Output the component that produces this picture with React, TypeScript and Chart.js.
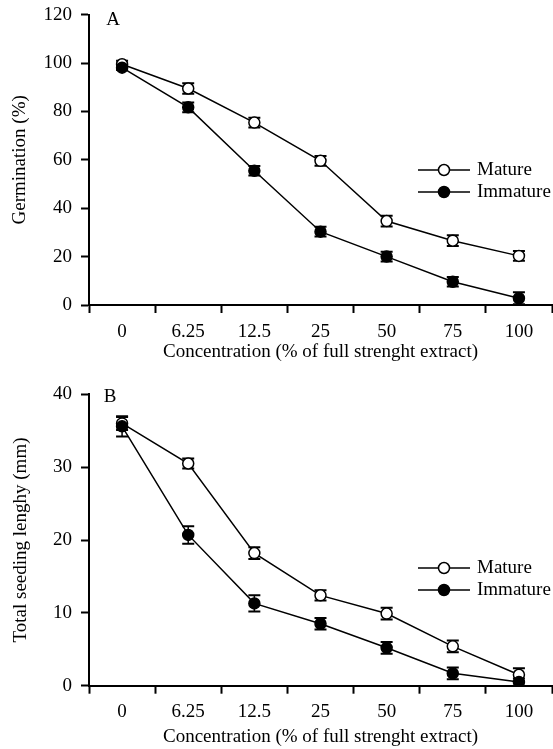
import React, { useEffect, useRef } from "react";
import { Chart, registerables } from "chart.js";

Chart.register(...registerables);

const categories = ["0", "6.25", "12.5", "25", "50", "75", "100"];
const seriesNames = ["Mature", "Immature"];

const germMature = [99.5, 89.5, 75.4, 59.6, 34.7, 26.6, 20.3];
const germMatureErr = [1.5, 2.2, 2.0, 2.0, 2.2, 2.2, 2.0];
const germImmature = [98.1, 81.7, 55.5, 30.3, 20.0, 9.6, 2.8];
const germImmatureErr = [1.0, 2.0, 2.0, 2.0, 2.0, 2.0, 2.5];

const lenMature = [36.0, 30.5, 18.2, 12.4, 9.9, 5.4, 1.5];
const lenMatureErr = [0.9, 0.7, 0.8, 0.7, 0.8, 0.8, 0.9];
const lenImmature = [35.6, 20.7, 11.3, 8.5, 5.2, 1.7, 0.5];
const lenImmatureErr = [1.4, 1.2, 1.1, 0.8, 0.8, 0.8, 0.5];

const germAxis = { min: 0, max: 120, step: 20 };
const lenAxis = { min: 0, max: 40, step: 10 };

const FONT = "'Liberation Serif', 'Times New Roman', serif";

const errorBarPlugin = {
  id: "errorBars",
  beforeDatasetsDraw(chart: any) {
    const ctx = chart.ctx;
    const yScale = chart.scales.y;
    chart.data.datasets.forEach((ds: any, i: number) => {
      const meta = chart.getDatasetMeta(i);
      const errs: number[] = ds.errors || [];
      meta.data.forEach((pt: any, j: number) => {
        const v = ds.data[j];
        const e = errs[j] || 0;
        const yTop = yScale.getPixelForValue(v + e);
        const yBot = yScale.getPixelForValue(Math.max(v - e, 0));
        ctx.save();
        ctx.strokeStyle = "#000";
        ctx.lineWidth = 1.5;
        ctx.beginPath();
        ctx.moveTo(pt.x, yTop);
        ctx.lineTo(pt.x, yBot);
        ctx.stroke();
        ctx.lineWidth = 2;
        ctx.beginPath();
        ctx.moveTo(pt.x - 6, yTop);
        ctx.lineTo(pt.x + 6, yTop);
        ctx.moveTo(pt.x - 6, yBot);
        ctx.lineTo(pt.x + 6, yBot);
        ctx.stroke();
        ctx.restore();
      });
    });
  },
};

const decorPlugin = {
  id: "decor",
  afterDraw(chart: any, _args: any, opts: any) {
    const ctx = chart.ctx;
    const area = chart.chartArea;
    ctx.save();
    ctx.fillStyle = "#000";
    ctx.font = `19px ${FONT}`;
    ctx.textAlign = "center";
    ctx.textBaseline = "middle";
    ctx.fillText(opts.panel, area.left + opts.panelDx, area.top + opts.panelDy);
    const order = [0, 1];
    order.forEach((i, k) => {
      const ds = chart.data.datasets[i];
      const y = opts.legendY + k * opts.legendGap;
      const x = opts.legendX;
      ctx.strokeStyle = "#000";
      ctx.lineWidth = 1.5;
      ctx.beginPath();
      ctx.moveTo(x, y);
      ctx.lineTo(x + 52, y);
      ctx.stroke();
      ctx.beginPath();
      ctx.arc(x + 26, y, 5.5, 0, Math.PI * 2);
      ctx.fillStyle = ds.pointBackgroundColor;
      ctx.fill();
      ctx.stroke();
      ctx.fillStyle = "#000";
      ctx.textAlign = "left";
      ctx.font = `19px ${FONT}`;
      ctx.fillText(ds.label, x + 59, y);
    });
    ctx.restore();
  },
};

function makeConfig(p: any) {
  return {
    type: "line",
    data: {
      labels: categories,
      datasets: [
        {
          label: seriesNames[0],
          data: p.mature,
          errors: p.matureErr,
          borderColor: "#000",
          borderWidth: 1.5,
          pointRadius: 5.5,
          pointBorderWidth: 1.5,
          pointBorderColor: "#000",
          pointBackgroundColor: "#fff",
          order: 2,
          tension: 0,
        },
        {
          label: seriesNames[1],
          data: p.immature,
          errors: p.immatureErr,
          borderColor: "#000",
          borderWidth: 1.5,
          pointRadius: 5.5,
          pointBorderWidth: 1.5,
          pointBorderColor: "#000",
          pointBackgroundColor: "#000",
          order: 1,
          tension: 0,
        },
      ],
    },
    options: {
      animation: false,
      responsive: false,
      devicePixelRatio: 1,
      events: [],
      layout: { autoPadding: false, padding: { top: p.padTop, right: 1, left: 0, bottom: 0 } },
      plugins: {
        legend: { display: false },
        tooltip: { enabled: false },
        decor: p.decor,
      },
      scales: {
        x: {
          type: "category",
          offset: true,
          afterFit: (s: any) => {
            s.height = p.xHeight;
            s.paddingLeft = 0;
            s.paddingRight = 0;
          },
          grid: {
            display: true,
            offset: true,
            drawOnChartArea: false,
            drawTicks: true,
            tickLength: 8,
            tickWidth: 2,
            tickColor: "#000",
            color: "#000",
          },
          border: { display: true, color: "#000", width: 2 },
          ticks: {
            color: "#000",
            font: { family: FONT, size: 19 },
            padding: p.xTickPad,
            maxRotation: 0,
            autoSkip: false,
          },
          title: {
            display: true,
            text: "Concentration (% of full strenght extract)",
            color: "#000",
            font: { family: FONT, size: 19 },
            padding: { top: 0, bottom: p.xTitlePad },
          },
        },
        y: {
          type: "linear",
          min: p.axis.min,
          max: p.axis.max,
          afterFit: (s: any) => {
            s.width = 89;
            s.paddingTop = 0;
            s.paddingBottom = 0;
          },
          grid: {
            display: true,
            drawOnChartArea: false,
            drawTicks: true,
            tickLength: 8,
            tickWidth: 2,
            tickColor: "#000",
            color: "#000",
          },
          border: { display: true, color: "#000", width: 2 },
          ticks: {
            stepSize: p.axis.step,
            color: "#000",
            font: { family: FONT, size: 19 },
            padding: 9,
          },
          title: {
            display: true,
            text: p.yTitle,
            color: "#000",
            font: { family: FONT, size: 19 },
            padding: { top: p.yTitlePad, bottom: 0 },
          },
        },
      },
    },
    plugins: [errorBarPlugin, decorPlugin],
  };
}

function Panel(props: { cfg: any; width: number; height: number; top: number }) {
  const ref = useRef<HTMLCanvasElement | null>(null);
  useEffect(() => {
    if (!ref.current) return;
    const chart = new Chart(ref.current, props.cfg);
    return () => chart.destroy();
  }, []);
  return (
    <canvas
      ref={ref}
      width={props.width}
      height={props.height}
      style={{ position: "absolute", left: 0, top: props.top, width: props.width, height: props.height }}
    />
  );
}

export default function App() {
  const cfgA = makeConfig({
    mature: germMature,
    matureErr: germMatureErr,
    immature: germImmature,
    immatureErr: germImmatureErr,
    axis: germAxis,
    yTitle: "Germination (%)",
    padTop: 14.7,
    xHeight: 65,
    xTickPad: 7.3,
    xTitlePad: 7,
    yTitlePad: 8.6,
    decor: { panel: "A", panelDx: 24, panelDy: 5.5, legendX: 418, legendY: 170, legendGap: 22 },
  });
  const cfgB = makeConfig({
    mature: lenMature,
    matureErr: lenMatureErr,
    immature: lenImmature,
    immatureErr: lenImmatureErr,
    axis: lenAxis,
    yTitle: "Total seeding lenghy (mm)",
    padTop: 24.3,
    xHeight: 63.3,
    xTickPad: 6.6,
    xTitlePad: 0.6,
    yTitlePad: 9.6,
    decor: { panel: "B", panelDx: 21, panelDy: 3.2, legendX: 418, legendY: 198, legendGap: 22 },
  });
  return (
    <div style={{ position: "absolute", left: 0, top: 0, width: 553, height: 749, background: "#fff" }}>
      <Panel cfg={cfgA} width={553} height={370} top={0} />
      <Panel cfg={cfgB} width={553} height={379} top={370} />
    </div>
  );
}
